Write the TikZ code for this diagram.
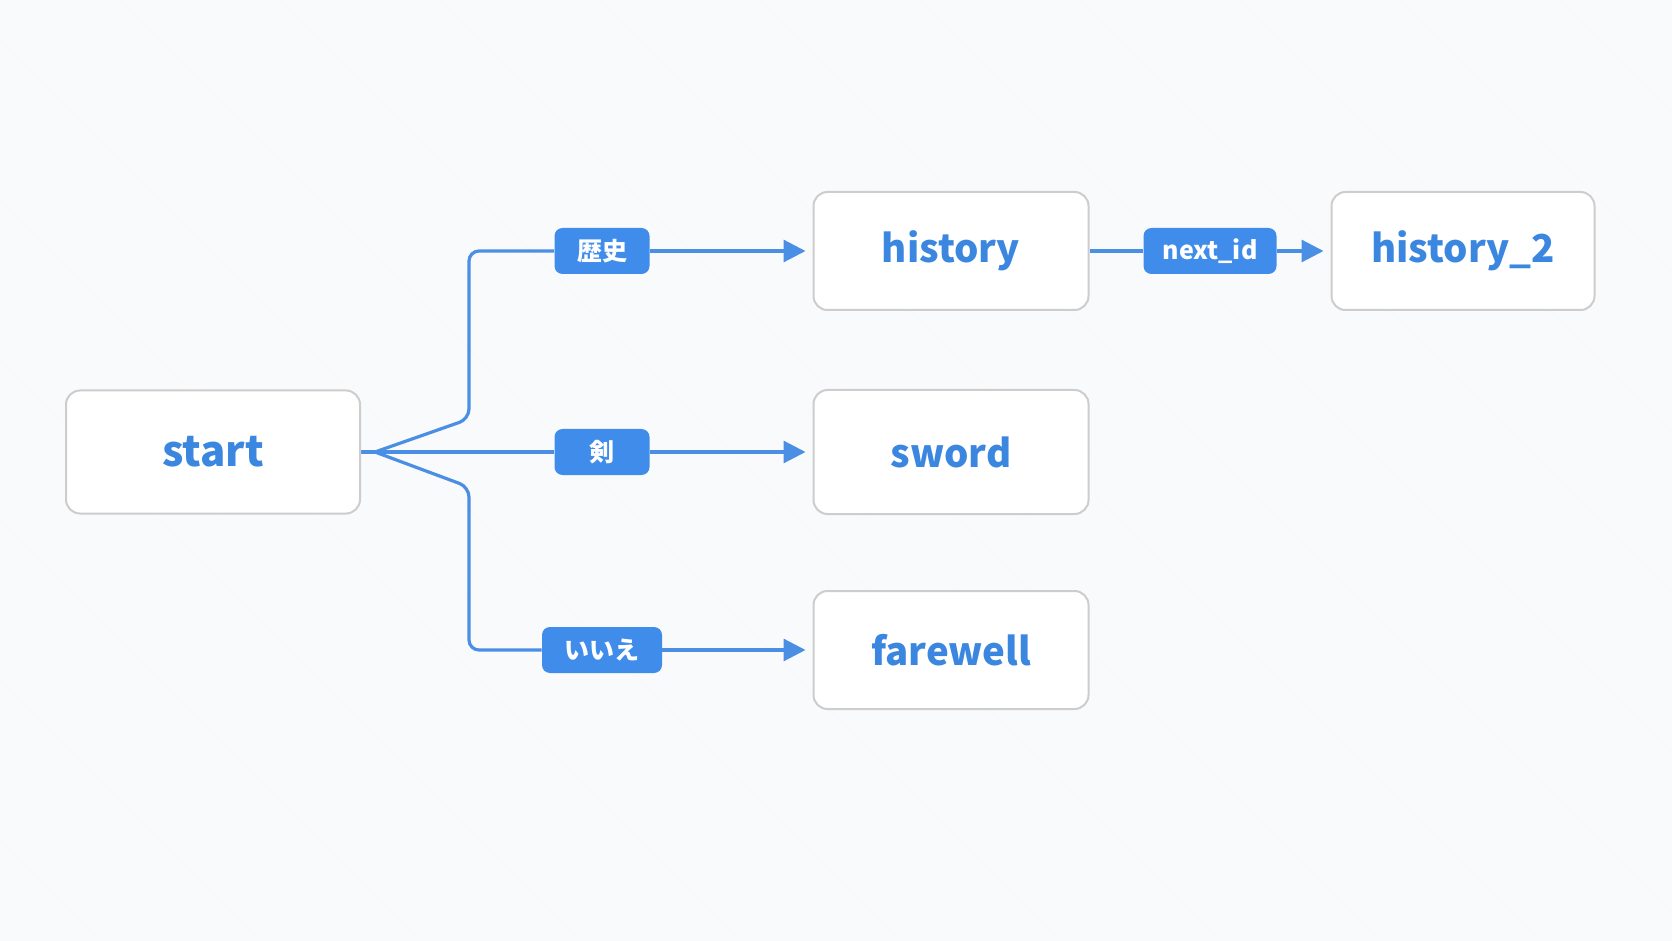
\documentclass[tikz,border=0pt]{standalone}
\usepackage{fontspec}
\setmainfont{Noto Sans CJK JP}
\usepackage{tikz}
\usetikzlibrary{arrows.meta,backgrounds,positioning}
\definecolor{flowblue}{HTML}{4A8FE4}
\definecolor{tagblue}{HTML}{3F8CEB}
\definecolor{textblue}{HTML}{3B87E0}
\definecolor{boxgray}{HTML}{CDCDCD}
\definecolor{paper}{HTML}{F9FAFC}
\tikzset{
  statebox/.style={
    draw=boxgray,
    fill=white,
    rounded corners=7pt,
    line width=1pt,
    align=center,
    minimum width=137.5pt,
    minimum height=59pt,
    inner sep=4pt,
    text=textblue,
    font=\fontsize{19.2}{22}\selectfont\bfseries
  },
  choicetag/.style={
    fill=tagblue,
    rounded corners=4pt,
    align=center,
    minimum height=23pt,
    minimum width=47.5pt,
    inner sep=3pt,
    text=white,
    font=\fontsize{12.5}{14}\selectfont\bfseries
  },
  flowline/.style={
    line width=1.6pt,
    draw=flowblue,
    line join=round
  },
  flowarrow/.style={
    -{Triangle[length=11pt,width=11pt]},
    line width=1.6pt,
    draw=flowblue,
    fill=flowblue,
    shorten >=3.5pt
  }
}
\begin{document}
\begin{tikzpicture}[x=0.5pt,y=-0.5pt]
  \useasboundingbox (0,0) rectangle (1672,941);

  \node[statebox, minimum width=147pt, minimum height=61.5pt,
        font=\fontsize{21}{24}\selectfont\bfseries] (start) at (213,452) {start};
  \node[statebox] (history) at (951,251) {history};
  \node[statebox, minimum height=62pt] (sword) at (951,452) {sword};
  \node[statebox] (farewell) at (951,650) {farewell};
  \node[statebox, minimum width=131.5pt] (history2) at (1463,251) {history\_2};

  \node[choicetag] (rekishi) at (602,251) {歴史};
  \node[choicetag] (tsurugi) at (602,452) {剣};
  \node[choicetag, minimum width=60pt] (iie) at (602,650) {いいえ};
  \node[choicetag, minimum width=66.5pt] (nextid) at (1210,251) {next\_id};

  \coordinate (fork) at (375,452);
  \coordinate (upbend) at (469,419);
  \coordinate (lowbend) at (469,487);

  \begin{scope}[on background layer]
    \fill[paper] (0,0) rectangle (1672,941);
    \begin{scope}
      \clip (0,0) rectangle (1672,941);
      \foreach \k in {-1000,-840,...,1700} {
        \draw[gray!5, line width=0.4pt] (\k,0) -- ++(941,941);
        \draw[gray!5, line width=0.4pt] (\k+941,0) -- ++(-941,941);
      }
    \end{scope}
    \draw[flowline] (start.east) -- (tsurugi.west);
    \draw[flowline, rounded corners=5pt] (fork) -- (upbend) |- (rekishi.west);
    \draw[flowline, rounded corners=5pt] (fork) -- (lowbend) |- (iie.west);
    \draw[flowline] (history.east) -- (nextid.west);
  \end{scope}

  \draw[flowarrow] (rekishi.east) -- (history.west);
  \draw[flowarrow] (tsurugi.east) -- (sword.west);
  \draw[flowarrow] (iie.east) -- (farewell.west);
  \draw[flowarrow] (nextid.east) -- (history2.west);
\end{tikzpicture}
\end{document}
